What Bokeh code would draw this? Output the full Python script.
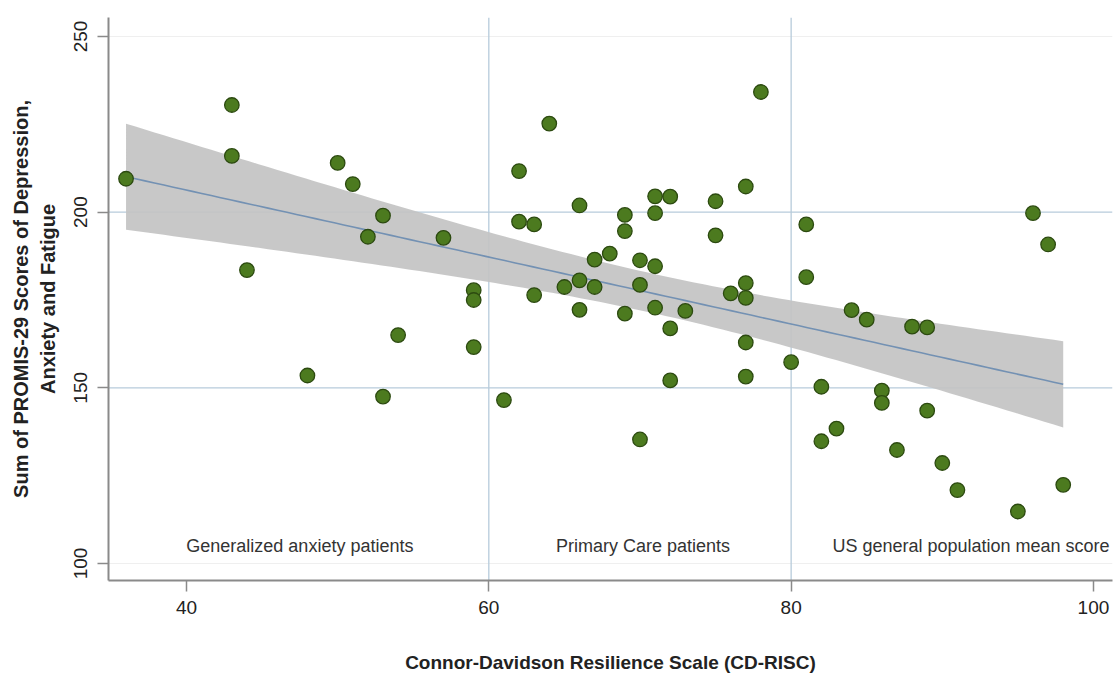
import numpy as np
from bokeh.plotting import figure
from bokeh.models import Span, Range1d, FixedTicker, ColumnDataSource
from bokeh.embed import file_html
from bokeh.resources import INLINE
from bokeh.core.properties import value

# ---- data ----
cdrisc = [36, 43, 43, 44, 48, 50, 51, 52, 53, 53, 54, 57, 59, 59, 59,
          61, 62, 62, 63, 63, 64, 65, 66, 66, 66, 67, 67, 68, 69, 69, 69,
          70, 70, 70, 71, 71, 71, 71, 72, 72, 72, 73, 75, 75, 76, 77, 77,
          77, 77, 77, 78, 80,
          81, 81, 82, 82, 83, 84, 85, 86, 86, 87, 88, 89, 89, 90, 91, 95,
          96, 97, 98]
promis = [209.5, 230.5, 216.0, 183.5, 153.5, 214.0, 208.0, 193.0, 199.0, 147.5, 165.0, 192.7, 177.8, 175.0, 161.6,
          146.5, 211.7, 197.3, 196.5, 176.4, 225.2, 178.7, 201.9, 180.6, 172.2, 186.5, 178.7, 188.2, 199.2, 194.6, 171.1,
          186.3, 179.3, 135.3, 204.5, 199.7, 184.6, 172.8, 204.4, 166.9, 152.1, 171.9, 203.1, 193.4, 176.9, 207.3, 179.8,
          175.6, 162.9, 153.2, 234.2, 157.3,
          196.5, 181.5, 150.3, 134.8, 138.4, 172.1, 169.4, 149.2, 145.7, 132.3, 167.4, 167.2, 143.5, 128.6, 120.9, 114.8,
          199.7, 190.8, 122.4]

ref_x = [60, 80]
ref_y = [150, 200]
faint_y = [100, 250]
x_ticks = [40, 60, 80, 100]
y_ticks = [100, 150, 200, 250]
group_labels = ["Generalized anxiety patients", "Primary Care patients",
                "US general population mean score"]
group_label_x = [47.5, 70.2, 91.9]
group_label_y = [105.1, 105.1, 105.1]

# ---- linear fit with 95% CI of the mean ----
x = np.array(cdrisc, dtype=float)
y = np.array(promis, dtype=float)
n = len(x)
b, a = np.polyfit(x, y, 1)
resid = y - (a + b * x)
s = np.sqrt(np.sum(resid ** 2) / (n - 2))
xm = x.mean()
sxx = np.sum((x - xm) ** 2)
t_crit = 1.995
xf = np.linspace(x.min(), x.max(), 100)
yf = a + b * xf
se = s * np.sqrt(1.0 / n + (xf - xm) ** 2 / sxx)
fit = ColumnDataSource(dict(x=xf, y=yf, lo=yf - t_crit * se, hi=yf + t_crit * se))

FONT = "Liberation Sans"

p = figure(width=1113, height=675, output_backend="svg", toolbar_location=None,
           x_range=Range1d(34.84, 101.26), y_range=Range1d(95.16, 255.4),
           min_border_left=108, min_border_right=1, min_border_top=17,
           min_border_bottom=95)
p.outline_line_color = None
p.xgrid.visible = False
p.ygrid.visible = False
p.background_fill_color = "white"

for v in faint_y:
    p.add_layout(Span(location=v, dimension="width", line_color="#efefef",
                      line_width=1, level="underlay"))
for v in ref_y:
    p.add_layout(Span(location=v, dimension="width", line_color="#b7cbdb",
                      line_width=1.3, level="underlay"))
for v in ref_x:
    p.add_layout(Span(location=v, dimension="height", line_color="#b7cbdb",
                      line_width=1.3, level="underlay"))

p.varea(x="x", y1="lo", y2="hi", source=fit, fill_color="#c3c3c3", fill_alpha=0.92)
p.line(x="x", y="y", source=fit, line_color="#7391b3", line_width=1.6)

p.scatter(cdrisc, promis, size=14.5, fill_color="#4c7a1f",
          line_color="#2c4a10", line_width=1.3)

p.text(x=group_label_x, y=group_label_y, text=group_labels,
       text_font=value(FONT), text_font_size="18px", text_color="#333333",
       text_align="center", text_baseline="middle")

# axes
for ax in (p.xaxis[0], p.yaxis[0]):
    ax.axis_line_color = "#8a8a8a"
    ax.axis_line_width = 2
    ax.major_tick_line_color = "#8a8a8a"
    ax.major_tick_line_width = 1.5
    ax.major_tick_out = 11
    ax.major_tick_in = 0
    ax.minor_tick_line_color = None
    ax.major_label_text_font = FONT
    ax.major_label_text_font_size = "19px"
    ax.major_label_text_color = "#222222"
    ax.axis_label_text_font = FONT
    ax.axis_label_text_font_style = "bold"
    ax.axis_label_text_color = "#222222"

p.xaxis.major_label_standoff = 9
p.yaxis.major_label_standoff = 10
p.xaxis.axis_label_text_font_size = "19px"
p.yaxis.axis_label_text_font_size = "20px"
p.xaxis.ticker = FixedTicker(ticks=x_ticks)
p.yaxis.ticker = FixedTicker(ticks=y_ticks)
p.yaxis.major_label_orientation = "vertical"
p.xaxis.axis_label = "Connor-Davidson Resilience Scale (CD-RISC)"
p.yaxis.axis_label = "Sum of PROMIS-29 Scores of Depression,\nAnxiety and Fatigue"
p.xaxis.axis_label_standoff = 35
p.yaxis.axis_label_standoff = 13

open("out.html", "w").write(file_html(p, INLINE))
